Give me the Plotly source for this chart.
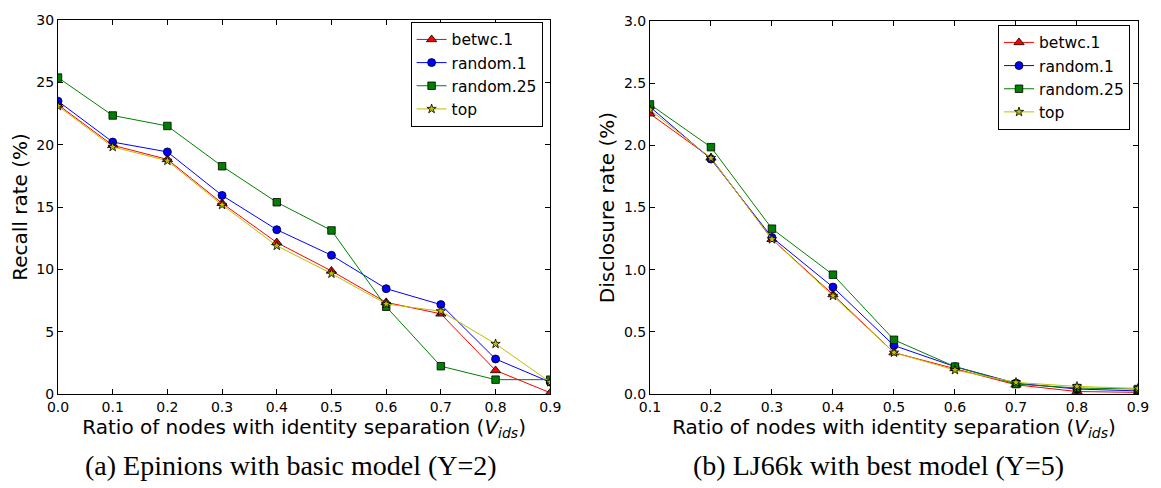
import plotly.graph_objects as go

# ---- data ----
x_left = [0.0, 0.1, 0.2, 0.3, 0.4, 0.5, 0.6, 0.7, 0.8, 0.9]
betwc1_left = [23.2, 19.95, 18.82, 15.3, 12.15, 9.87, 7.35, 6.43, 1.89, 0.1]
random1_left = [23.49, 20.21, 19.42, 15.93, 13.18, 11.13, 8.45, 7.17, 2.81, 0.95]
random25_left = [25.38, 22.34, 21.5, 18.27, 15.38, 13.12, 7.0, 2.23, 1.15, 1.15]
top_left = [23.1, 19.82, 18.71, 15.17, 11.89, 9.66, 7.22, 6.64, 4.02, 0.95]

x_right = [0.1, 0.2, 0.3, 0.4, 0.5, 0.6, 0.7, 0.8, 0.9]
betwc1_right = [2.255, 1.90, 1.245, 0.80, 0.333, 0.206, 0.074, 0.02, 0.013]
random1_right = [2.31, 1.89, 1.26, 0.86, 0.39, 0.22, 0.087, 0.04, 0.025]
random25_right = [2.33, 1.986, 1.33, 0.96, 0.436, 0.22, 0.08, 0.048, 0.04]
top_right = [2.287, 1.898, 1.245, 0.79, 0.333, 0.193, 0.093, 0.061, 0.045]

series_names = ["betwc.1", "random.1", "random.25", "top"]
left_ticks_y = [0, 5, 10, 15, 20, 25, 30]
right_ticks_y = [0.0, 0.5, 1.0, 1.5, 2.0, 2.5, 3.0]

captions = ["(a) Epinions with basic model (Y=2)", "(b) LJ66k with best model (Y=5)"]
xtitle = "Ratio of nodes with identity separation (<i>V</i><sub><i>ids</i></sub>)"

# ---- styles ----
styles = [
    dict(color="#ff0000", symbol="triangle-up", size=9),
    dict(color="#0000ff", symbol="circle", size=8),
    dict(color="#008000", symbol="square", size=7.5),
    dict(color="#bfbf00", symbol="star", size=7),
]

fig = go.Figure()

left_data = [betwc1_left, random1_left, random25_left, top_left]
right_data = [betwc1_right, random1_right, random25_right, top_right]

for name, ys, st in zip(series_names, left_data, styles):
    fig.add_trace(go.Scatter(
        x=x_left, y=ys, name=name, mode="lines+markers",
        line=dict(color=st["color"], width=1),
        marker=dict(color=st["color"], symbol=st["symbol"], size=st["size"],
                    line=dict(color="black", width=0.8)),
        xaxis="x", yaxis="y", legend="legend",
    ))

for name, ys, st in zip(series_names, right_data, styles):
    fig.add_trace(go.Scatter(
        x=x_right, y=ys, name=name, mode="lines+markers",
        line=dict(color=st["color"], width=1),
        marker=dict(color=st["color"], symbol=st["symbol"], size=st["size"],
                    line=dict(color="black", width=0.8)),
        xaxis="x2", yaxis="y2", legend="legend2",
    ))

FONT = "DejaVu Sans"
axis_common = dict(
    showline=True, linecolor="black", linewidth=1, mirror="allticks",
    ticks="inside", ticklen=5, tickwidth=1, tickcolor="black",
    showgrid=False, zeroline=False,
    tickfont=dict(family=FONT, size=14, color="black"),
)

fig.update_layout(
    width=1161, height=488,
    margin=dict(l=58, r=22, t=13, b=94),
    paper_bgcolor="white", plot_bgcolor="white",
    font=dict(family=FONT, color="black"),
    xaxis=dict(domain=[0, 0.4558], range=[0, 0.9], dtick=0.1, tick0=0,
               tickformat=".1f",
               title=dict(text=xtitle, font=dict(size=20), standoff=3),
               **axis_common),
    yaxis=dict(domain=[0, 1], range=[0, 30], tickvals=left_ticks_y,
               title=dict(text="Recall rate (%)", font=dict(size=20), standoff=3),
               **axis_common),
    xaxis2=dict(domain=[0.5481, 1], range=[0.1, 0.9], dtick=0.1, tick0=0.1,
                tickformat=".1f", anchor="y2",
                title=dict(text=xtitle, font=dict(size=20), standoff=3),
                **axis_common),
    yaxis2=dict(domain=[0, 0.997], range=[0, 3.0], tickvals=right_ticks_y,
                tickformat=".1f", anchor="x2",
                title=dict(text="Disclosure rate (%)", font=dict(size=20), standoff=3),
                **axis_common),
    legend=dict(x=0.4487, xanchor="right", y=0.995, yanchor="top",
                bgcolor="white", bordercolor="black", borderwidth=1,
                tracegroupgap=0,
                font=dict(family=FONT, size=15.5, color="black")),
    legend2=dict(x=0.9926, xanchor="right", y=0.987, yanchor="top",
                 bgcolor="white", bordercolor="black", borderwidth=1,
                 tracegroupgap=0,
                 font=dict(family=FONT, size=15.5, color="black")),
    showlegend=True,
)

fig.add_annotation(text=captions[0], xref="paper", yref="paper",
                   x=0.2155, y=-0.19, xanchor="center", yanchor="middle",
                   showarrow=False,
                   font=dict(family="Liberation Serif", size=28, color="black"))
fig.add_annotation(text=captions[1], xref="paper", yref="paper",
                   x=0.7595, y=-0.19, xanchor="center", yanchor="middle",
                   showarrow=False,
                   font=dict(family="Liberation Serif", size=28, color="black"))

fig.write_html("out.html")
